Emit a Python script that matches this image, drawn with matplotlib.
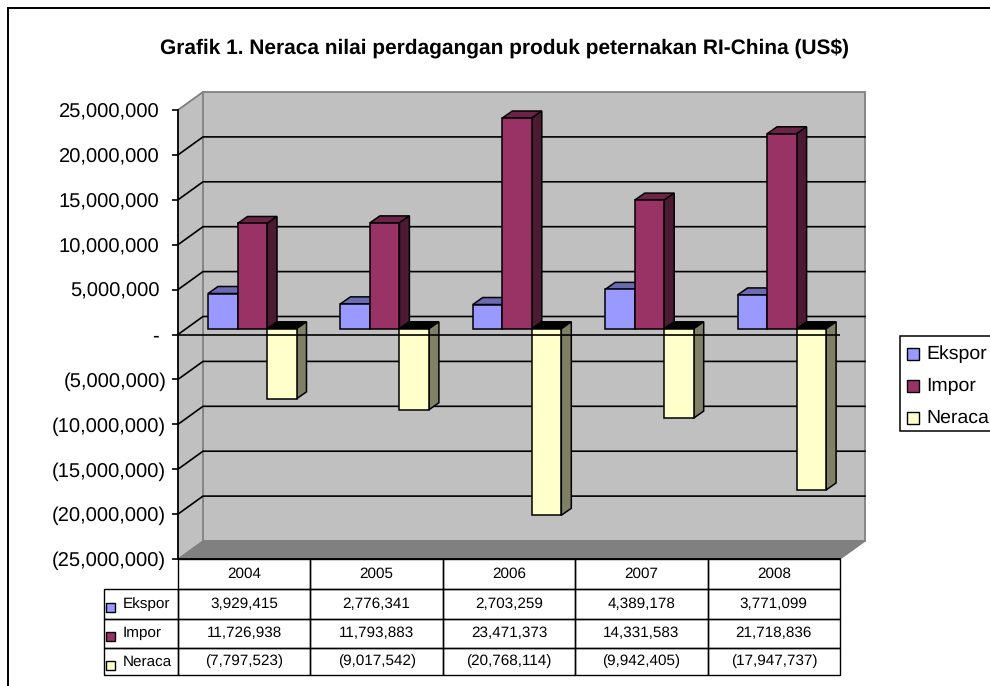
import matplotlib
matplotlib.use("Agg")
import matplotlib.pyplot as plt
from matplotlib.patches import Rectangle

plt.rcParams["font.family"] = ["Liberation Sans", "DejaVu Sans"]
plt.rcParams["text.hinting"] = "none"

years = ["2004", "2005", "2006", "2007", "2008"]
ekspor = [3929415, 2776341, 2703259, 4389178, 3771099]
impor = [11726938, 11793883, 23471373, 14331583, 21718836]
neraca = [-7797523, -9017542, -20768114, -9942405, -17947737]
y_ticks = [25000000, 20000000, 15000000, 10000000, 5000000, 0,
           -5000000, -10000000, -15000000, -20000000, -25000000]
series_names = ["Ekspor", "Impor", "Neraca"]
table_text = [
    ["3,929,415", "2,776,341", "2,703,259", "4,389,178", "3,771,099"],
    ["11,726,938", "11,793,883", "23,471,373", "14,331,583", "21,718,836"],
    ["(7,797,523)", "(9,017,542)", "(20,768,114)", "(9,942,405)", "(17,947,737)"],
]

W, H = 990, 686
# front plane of the fake 3d box, in pixels
LEFT, RIGHT, TOP, BOTTOM = 178, 840, 110, 559
PX_X = 5 / (RIGHT - LEFT)
PX_Y = 50000000 / (BOTTOM - TOP)

front_colors = ["#9999FF", "#993366", "#FFFFCC"]
top_colors = ["#6B6BB3", "#6B2447", "#000000"]
side_colors = ["#4D4D80", "#4D1A33", "#808066"]


def fig_rect(x0, y0, x1, y1):
    return [x0 / W, 1 - y1 / H, (x1 - x0) / W, (y1 - y0) / H]


fig = plt.figure(figsize=(W / 100, H / 100), dpi=100)

# chart border, cut off by the image on the right and bottom
fig.add_artist(Rectangle((8 / W, -0.1), 1.1, 1.1 - 8 / H, transform=fig.transFigure,
                         fill=False, edgecolor="black", linewidth=1.4))
fig.text(505 / W, 1 - 49 / H, "Grafik 1. Neraca nilai perdagangan produk peternakan RI-China (US$)",
         ha="center", va="center", fontsize=15, fontweight="bold")

ax = fig.add_axes(fig_rect(LEFT, TOP, RIGHT, BOTTOM))
ax.set_xlim(0, 5)
ax.set_ylim(-25000000, 25000000)
ax.patch.set_visible(False)
for s in ["top", "right"]:
    ax.spines[s].set_visible(False)
for s in ["left", "bottom"]:
    ax.spines[s].set_linewidth(1.3)
ax.set_xticks([])

# walls and floor
DX = 25 * PX_X
DY = 18 * PX_Y
y_lo, y_hi = -25000000, 25000000
ax.fill([0, DX, DX, 0], [y_lo, y_lo + DY, y_hi + DY, y_hi], color="#C0C0C0", zorder=0.5, clip_on=False)
ax.fill([DX, 5 + DX, 5 + DX, DX], [y_lo + DY, y_lo + DY, y_hi + DY, y_hi + DY],
        facecolor="#C0C0C0", edgecolor="#808080", linewidth=1.3, zorder=0.6, clip_on=False)
ax.fill([0, DX, 5 + DX, 5], [y_lo, y_lo + DY, y_lo + DY, y_lo], color="#808080", zorder=0.7, clip_on=False)
ax.plot([0, DX], [y_hi, y_hi + DY], color="#808080", linewidth=1.3, zorder=0.8, clip_on=False)

for v in y_ticks[1:-1]:
    ax.plot([0, DX, 5 + DX], [v, v + DY, v + DY], color="black", linewidth=1.2, zorder=1, clip_on=False)

# bars
BAR_W = 29.5 * PX_X
BAR_OFF = 30 * PX_X
BAR_DX = 10 * PX_X
BAR_DY = 7 * PX_Y
BASE = 5.7 * PX_Y
for k, values in enumerate([ekspor, impor, neraca]):
    for i, v in enumerate(values):
        x0 = i + BAR_OFF + k * BAR_W
        x1 = x0 + BAR_W
        hi = BASE + max(v, 0)
        lo = BASE + min(v, 0)
        z = 3 + k * 0.1
        ax.fill([x0, x1, x1 + BAR_DX, x0 + BAR_DX], [hi, hi, hi + BAR_DY, hi + BAR_DY],
                facecolor=top_colors[k], edgecolor="black", linewidth=1.1, zorder=z, clip_on=False)
        ax.fill([x1, x1 + BAR_DX, x1 + BAR_DX, x1], [lo, lo + BAR_DY, hi + BAR_DY, hi],
                facecolor=side_colors[k], edgecolor="black", linewidth=1.1, zorder=z, clip_on=False)
        ax.bar(x0, v, width=BAR_W, bottom=BASE, align="edge", color=front_colors[k],
               edgecolor="black", linewidth=1.1, zorder=z + 0.01, clip_on=False)

# zero line runs over the bars
ax.axhline(0, color="black", linewidth=1.2, zorder=4)

# y axis, positive labels sit further left like the accounting format
ax.set_yticks(y_ticks)
labels = []
for v in y_ticks:
    if v == 0:
        labels.append("-")
    elif v > 0:
        labels.append(f"{v:,}")
    else:
        labels.append(f"({-v:,})")
ax.set_yticklabels(labels, fontsize=14.5)
ax.tick_params(axis="y", length=4.5, width=1.2)
for v, tick in zip(y_ticks, ax.yaxis.get_major_ticks()):
    tick.set_pad(9.0 if v >= 0 else 4.0)

# data table under the axis, bbox only counts the grid cells, not the row labels
label_w = (LEFT - 103) / (RIGHT - LEFT)
tab_h = (675 - BOTTOM) / (BOTTOM - TOP)
tab = ax.table(cellText=table_text, rowLabels=series_names, colLabels=years,
               colWidths=[0.2] * 5, rowLoc="left", cellLoc="center",
               bbox=[0, -tab_h, 1, tab_h], zorder=5)
tab.auto_set_font_size(False)
row_heights = [30, 30, 29, 27]
for (r, c), cell in tab.get_celld().items():
    cell.set_height(row_heights[r])
    cell.set_linewidth(1.0)
    cell.set_edgecolor("black")
    cell.set_facecolor("none")
    cell.set_text_props(fontsize=11)
    if c == -1:
        cell.set_width(label_w)
        cell.PAD = 0.25

# swatches in the row label cells
px_ax = ax.transAxes
sw_y = [603, 632, 661]
for y, col in zip(sw_y, front_colors):
    ax.add_patch(Rectangle(((106 - LEFT) / (RIGHT - LEFT), (BOTTOM - y - 9) / (BOTTOM - TOP)),
                           9 / (RIGHT - LEFT), 9 / (BOTTOM - TOP), transform=px_ax,
                           facecolor=col, edgecolor="black", linewidth=1.0, clip_on=False, zorder=6))

# legend box, runs off the right side of the image
fig.add_artist(Rectangle((900 / W, 1 - 431 / H), 120 / W, 95 / H, transform=fig.transFigure,
                         facecolor="white", edgecolor="black", linewidth=1.1))
for y, col, name in zip([354, 386, 418], front_colors, series_names):
    fig.add_artist(Rectangle((907 / W, 1 - (y + 6) / H), 12 / W, 12 / H, transform=fig.transFigure,
                             facecolor=col, edgecolor="black", linewidth=1.0))
    fig.text(926 / W, 1 - y / H, name, ha="left", va="center", fontsize=14)

fig.savefig("out.png", dpi=100)
